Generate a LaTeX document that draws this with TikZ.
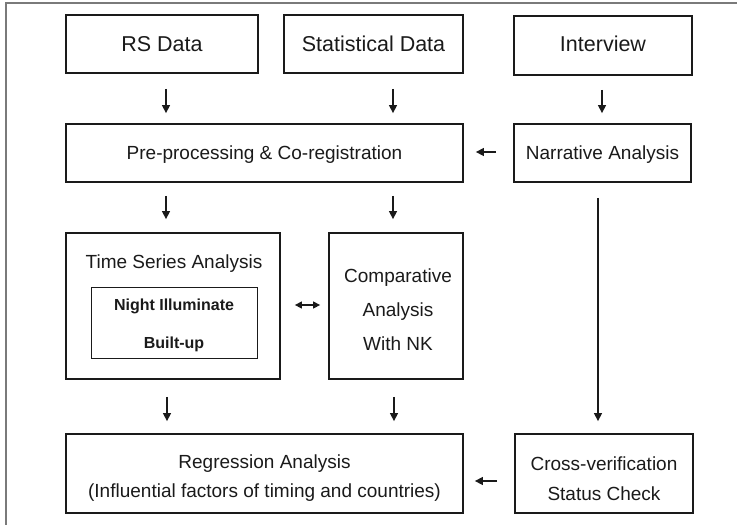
\documentclass[tikz,border=0pt]{standalone}
\usepackage{fontspec}
\setmainfont{Liberation Sans}
\usetikzlibrary{arrows.meta,calc}
\definecolor{ink}{HTML}{1A1A1A}
\definecolor{framegray}{HTML}{7A7A7A}
\tikzset{
  box/.style={draw=ink, line width=1.8pt, text=ink, align=center, inner sep=0pt},
  innerbox/.style={draw=ink, line width=1pt, text=ink, align=center, inner sep=0pt},
  label/.style={text=ink, align=center, inner sep=0pt},
  arr/.style={draw=ink, line width=1.4pt, -{Triangle[length=8pt,width=8pt]}},
  dblarr/.style={draw=ink, line width=1.4pt, {Triangle[length=7pt,width=7pt]}-{Triangle[length=7pt,width=7pt]}},
  big/.style={font=\fontsize{21.5}{24}\selectfont},
  mid/.style={font=\fontsize{19}{22}\selectfont},
}
\begin{document}
\begin{tikzpicture}[x=1pt,y=-1pt]
\useasboundingbox (0,0) rectangle (737,525);
% partial outer frame
\draw[framegray, line width=1.4pt] (6,525) -- (6,3) -- (737,3);

% top row
\node[box, minimum width=192pt, minimum height=58pt] (rs) at (162,44) {};
\node[label, big] (rstxt) at (162,44) {RS Data};
\node[box, minimum width=179pt, minimum height=58pt] (stat) at (373.5,44) {};
\node[label, big] (stattxt) at (373.5,44) {Statistical Data};
\node[box, minimum width=178pt, minimum height=59pt] (intv) at (603,45.5) {};
\node[label, big] (intvtxt) at (603,44) {Interview};

% second row
\node[box, minimum width=397pt, minimum height=58pt] (pre) at (264.5,153) {};
\node[label, mid] (pretxt) at (264.5,154.5) {Pre-processing \& Co-registration};
\node[box, minimum width=177pt, minimum height=58pt] (narr) at (602.5,153) {};
\node[label, mid] (narrtxt) at (602.5,154.5) {Narrative Analysis};

% third row
\node[box, minimum width=214pt, minimum height=146pt] (tsa) at (173,306) {};
\node[label, mid] (tsatitle) at (174,264) {Time Series Analysis};
\node[innerbox, minimum width=166pt, minimum height=71pt] (inner) at (174,322.5) {};
\node[label, font=\fontsize{16}{19}\selectfont\bfseries] (night) at (174,306) {Night Illuminate};
\node[label, font=\fontsize{16}{19}\selectfont\bfseries] (built) at (174,344) {Built-up};
\node[box, minimum width=134pt, minimum height=146pt] (comp) at (396,306) {};
\node[label, font=\fontsize{19}{34}\selectfont] (comptxt) at (398,310) {Comparative\\Analysis\\With NK};

% bottom row
\node[box, minimum width=397pt, minimum height=79pt] (reg) at (264.5,473.5) {};
\node[label, font=\fontsize{19}{29}\selectfont] (regtxt) at (264.5,478) {Regression Analysis\\(Influential factors of timing and countries)};
\node[box, minimum width=178pt, minimum height=79pt] (cross) at (604,473.5) {};
\node[label, font=\fontsize{19}{30}\selectfont] (crosstxt) at (604,479) {Cross-verification\\Status Check};

% connectors
\draw[arr, shorten <=15pt, shorten >=10pt] ($(rs.south)+(4,0)$) -- ($(rs.south |- pre.north)+(4,0)$);
\draw[arr, shorten <=15pt, shorten >=10pt] ($(stat.south)+(19.5,0)$) -- ($(stat.south |- pre.north)+(19.5,0)$);
\draw[arr, shorten <=14pt, shorten >=10pt] ($(intv.south)+(-1,0)$) -- ($(intv.south |- narr.north)+(-1,0)$);
\draw[arr, shorten <=17pt, shorten >=12pt] ($(narr.west)+(0,-1)$) -- ($(pre.east)+(0,-1)$);

\draw[arr, shorten <=13pt, shorten >=13pt] ($(rs.south |- pre.south)+(4,0)$) -- ($(rs.south |- tsa.north)+(4,0)$);
\draw[arr, shorten <=13pt, shorten >=13pt] ($(stat.south |- pre.south)+(19.5,0)$) -- ($(stat.south |- comp.north)+(19.5,0)$);
\draw[dblarr, shorten <=14pt, shorten >=8pt] ($(tsa.east)+(0,-1)$) -- ($(comp.west)+(0,-1)$);
\draw[arr, shorten <=15pt, shorten >=12pt] ($(narr.south)+(-4.5,0)$) -- ($(narr.south |- cross.north)+(-4.5,0)$);

\draw[arr, shorten <=17pt, shorten >=12pt] ($(rs.south |- tsa.south)+(5,0)$) -- ($(rs.south |- reg.north)+(5,0)$);
\draw[arr, shorten <=17pt, shorten >=12pt] ($(stat.south |- comp.south)+(20.5,0)$) -- ($(stat.south |- reg.north)+(20.5,0)$);
\draw[arr, shorten <=17pt, shorten >=11pt] ($(cross.west)+(0,7.5)$) -- ($(reg.east)+(0,7.5)$);
\end{tikzpicture}
\end{document}
